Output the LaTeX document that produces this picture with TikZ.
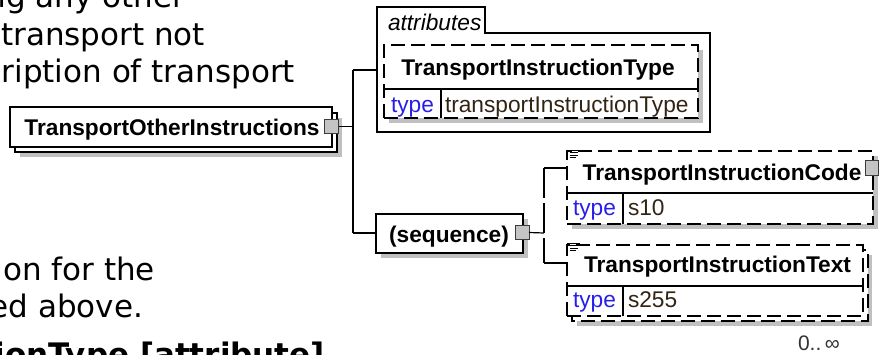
\documentclass[tikz,border=0pt]{standalone}
\usepackage{fontspec}
\setmainfont{Liberation Sans}
\newfontfamily\verd{DejaVu Sans}
\definecolor{shadowgray}{RGB}{192,192,192}
\definecolor{btngray}{RGB}{196,196,196}
\definecolor{btnedge}{RGB}{60,60,60}
\definecolor{typeblue}{RGB}{40,30,235}
\definecolor{valdark}{RGB}{50,36,20}
\tikzset{
  body/.style={font=\verd\fontsize{31}{37}\selectfont, anchor=base east},
  bodybold/.style={font=\verd\bfseries\fontsize{31}{37}\selectfont, anchor=base east},
  nm/.style={font=\bfseries\fontsize{22.7}{27}\selectfont, anchor=base},
  lbl/.style={font=\fontsize{22.7}{27}\selectfont, anchor=base west},
  typelbl/.style={lbl, text=typeblue},
  vallbl/.style={lbl, text=valdark},
  box/.style={draw=black, fill=white, line width=1.2pt},
  optbox/.style={box, dash pattern=on 14pt off 6pt},
  shadowbox/.style={fill=shadowgray, draw=none},
  btn/.style={draw=btnedge, fill=btngray, line width=1pt},
  wire/.style={draw=black, line width=1.2pt},
  dwire/.style={wire, dash pattern=on 30pt off 5pt},
  rect/.style={minimum width=#1, anchor=north west},
}
\begin{document}
\begin{tikzpicture}[x=1pt,y=-1pt, every node/.style={inner sep=0pt, outer sep=0pt}]
\useasboundingbox (0,0) rectangle (879,354);
\clip (0,0) rectangle (879,354);
\fill[white] (0,0) rectangle (879,354);

% ---- surrounding body text (cut off) ----
\node[body] (t1) at (185,7) {ng any other};
\node[body] (t2) at (205,45) {transport not};
\node[body] (t3) at (295,82) {ription of transport};
\node[body] (t4) at (155,280) {on for the};
\node[body] (t5) at (143,317) {ed above.};
\node[bodybold] (t6) at (325,365) {tionType [attribute]};

% ---- TransportOtherInstructions (multiple) ----
\fill[shadowgray] (20,118) rectangle (342,157);
\draw[box] (15,113) rectangle (337,152);
\node[box, minimum width=322pt, minimum height=40pt, anchor=north west] (toi) at (10,107) {};
\node[nm] (toitext) at (172,135) {TransportOtherInstructions};
\node[btn, minimum width=14pt, minimum height=14pt] (toibtn) at (331.5,126.5) {};

% ---- trunk ----
\coordinate (trunktop) at (353,70);
\coordinate (trunkbot) at (353,233);
\draw[wire] (toibtn.east) -- (toibtn.east -| trunktop);
\draw[wire] (trunktop) -- (trunkbot);

% ---- attributes group ----
\draw[box] (377,132) -- (377,7) -- (485,7) -- (485,33) -- (710,33) -- (710,132) -- cycle;
\coordinate (attrin) at (377,70);
\node[lbl, font=\itshape\fontsize{22.7}{27}\selectfont] (attrlbl) at (388,30) {attributes};
\draw[wire] (trunktop) -- (attrin);

\fill[shadowgray] (389,50) rectangle (703,123);
\node[optbox, minimum width=314pt, minimum height=73pt, anchor=north west] (tit) at (384,45) {};
\draw[wire] (384,89) -- (698,89);
\draw[wire] (441,89) -- (441,118);
\node[nm] (tittext) at (538,75) {TransportInstructionType};
\node[typelbl] (tittype) at (391,112) {type};
\node[vallbl] (titval) at (445,112) {transportInstructionType};

% ---- sequence ----
\fill[shadowgray] (381,219) rectangle (528,258);
\node[box, minimum width=147pt, minimum height=39pt, anchor=north west] (seq) at (376,214) {};
\node[nm] (seqtext) at (449,242) {(sequence)};
\node[btn, minimum width=14pt, minimum height=14pt] (seqbtn) at (522,232.5) {};
\draw[wire] (trunkbot) -- (seq.west |- trunkbot);

\coordinate (seqbar) at (544,233);
\coordinate (bartop) at (544,168);
\coordinate (barbot) at (544,263);
\draw[wire] (seqbtn.east) -- (seqbar);
\draw[dwire] (bartop) -- (barbot);

% ---- TransportInstructionCode (optional) ----
\fill[shadowgray] (572,156) rectangle (878,229);
\node[optbox, minimum width=306pt, minimum height=73pt, anchor=north west] (tic) at (567,151) {};
\draw[wire] (567,193) -- (873,193);
\draw[wire] (623,193) -- (623,224);
\draw[wire] (bartop) -- (tic.west |- bartop);
\node[nm] (tictext) at (722,180) {TransportInstructionCode};
\node[typelbl] (tictype) at (573,215) {type};
\node[vallbl] (ticval) at (628,215) {s10};
\node[btn, minimum width=13pt, minimum height=15pt] (ticbtn) at (871.5,167.5) {};
% annotation icon
\draw[line width=0.8pt] (567,149.5) -- (567,158) (567,150) -- (580,150) (569.5,152.5) -- (578,152.5) (569.5,155) -- (578,155) (569.5,157.5) -- (576,157.5);

% ---- TransportInstructionText (optional, multiple) ----
\fill[shadowgray] (577,255) rectangle (872,326);
\draw[optbox] (572,250) rectangle (868,321);
\node[optbox, minimum width=296pt, minimum height=71pt, anchor=north west] (tix) at (567,245) {};
\draw[wire] (567,286) -- (863,286);
\draw[wire] (623,286) -- (623,316);
\draw[wire] (barbot) -- (tix.west |- barbot);
\node[nm] (tixtext) at (717.5,272) {TransportInstructionText};
\node[typelbl] (tixtype) at (573,307) {type};
\node[vallbl] (tixval) at (628,307) {s255};
\draw[line width=0.8pt] (567,242.5) -- (567,251) (567,243) -- (580,243) (569.5,245.5) -- (578,245.5) (569.5,248) -- (578,248) (569.5,250.5) -- (576,250.5);
\node[lbl, font=\fontsize{21}{25}\selectfont, text=black!80] (occ) at (798,350) {0..\,∞};
\end{tikzpicture}
\end{document}
